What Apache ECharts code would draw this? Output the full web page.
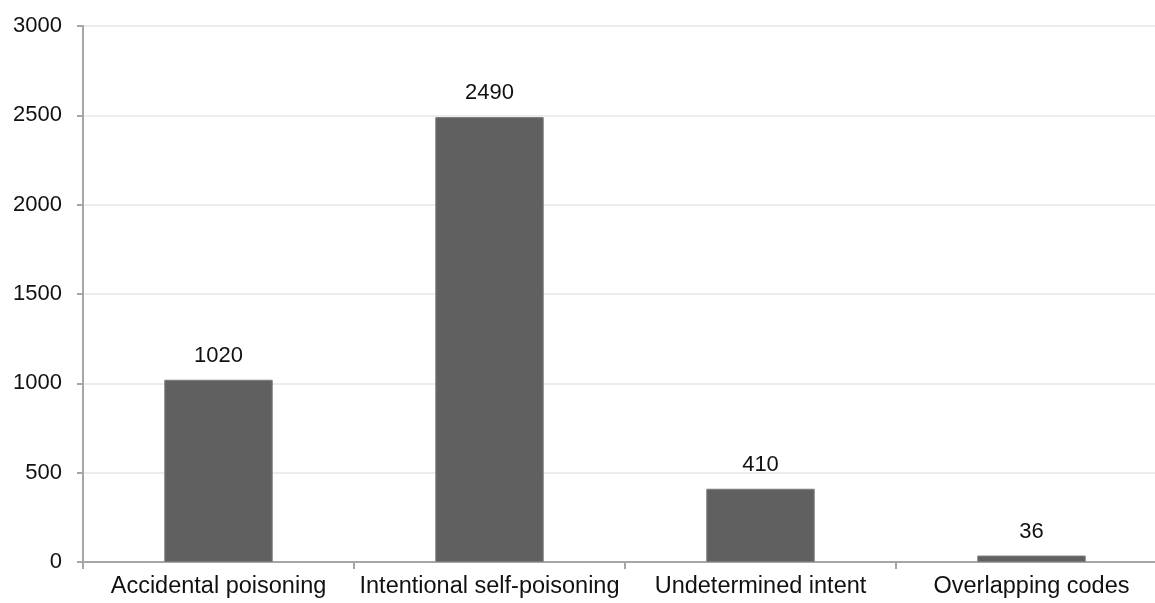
<!DOCTYPE html>
<html>
<head>
<meta charset="utf-8">
<script src="https://cdn.jsdelivr.net/npm/echarts@6/dist/echarts.min.js"></script>
<style>
  html, body { margin: 0; padding: 0; background: #fff; }
  #chart { width: 1155px; height: 603px; }
</style>
</head>
<body>
<div id="chart"></div>
<script>
// Poisoning cases by intent
const categories = ['Accidental poisoning', 'Intentional self-poisoning', 'Undetermined intent', 'Overlapping codes'];
const counts = [1020, 2490, 410, 36];
const yTicks = { min: 0, max: 3000, interval: 500 };

const font = '"Liberation Sans", Arial, sans-serif';
const chart = echarts.init(document.getElementById('chart'), null, { renderer: 'canvas' });

chart.setOption({
  animation: false,
  backgroundColor: '#ffffff',
  // the category axis runs a little past the right edge of the canvas
  grid: { left: 83, width: 1084, top: 26, bottom: 41, containLabel: false, outerBoundsMode: 'none' },
  xAxis: {
    type: 'category',
    data: categories,
    boundaryGap: true,
    axisLine: { show: true, lineStyle: { color: '#a6a6a6', width: 2 } },
    axisTick: { show: true, length: 7, alignWithLabel: false, lineStyle: { color: '#a6a6a6', width: 2 } },
    axisLabel: { color: '#111', fontFamily: font, fontSize: 23.5, margin: 13, interval: 0 },
    splitLine: { show: false }
  },
  yAxis: {
    type: 'value',
    min: yTicks.min,
    max: yTicks.max,
    interval: yTicks.interval,
    axisLine: { show: true, lineStyle: { color: '#a6a6a6', width: 2 } },
    axisTick: { show: true, length: 6, lineStyle: { color: '#a6a6a6', width: 2 } },
    axisLabel: { color: '#111', fontFamily: font, fontSize: 22, margin: 21, formatter: v => String(v) },
    splitLine: { show: true, lineStyle: { color: '#ececec', width: 2 } }
  },
  series: [{
    type: 'bar',
    data: counts,
    barWidth: '40%',
    itemStyle: { color: '#606060', borderColor: '#7a7a7a', borderWidth: 1 },
    label: {
      show: true,
      position: 'top',
      distance: 13,
      color: '#111',
      fontFamily: font,
      fontSize: 22
    }
  }]
});
</script>
</body>
</html>
